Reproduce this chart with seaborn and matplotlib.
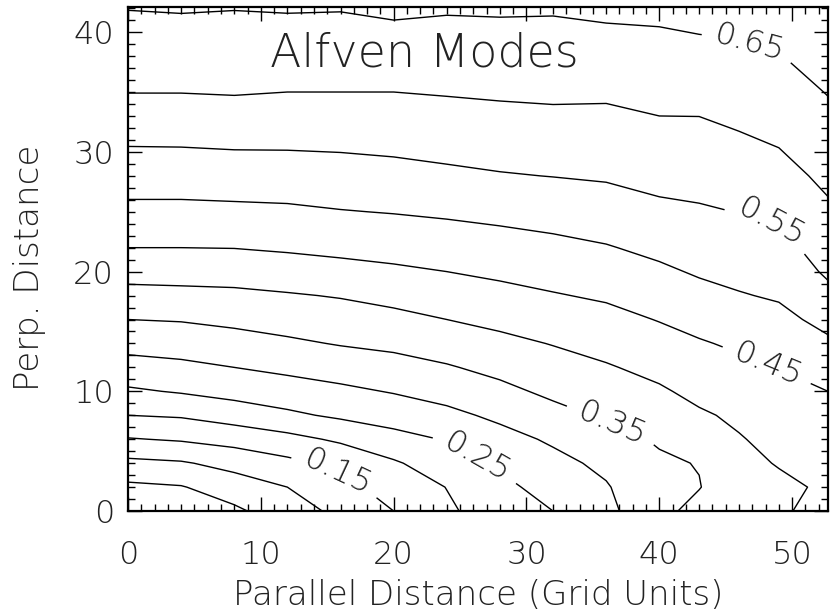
import numpy as np
import matplotlib
matplotlib.use("Agg")
import matplotlib.pyplot as plt
import seaborn as sns
from matplotlib.ticker import MultipleLocator

# grid nodes (grid units)
par_dist = [0, 4, 8, 12, 16, 20, 24, 28, 32, 36, 40, 43, 46, 49, 52.7]
perp_dist = [0, 2, 4, 6, 8, 10, 12, 14, 16, 18, 20, 22, 25, 28, 32, 35, 37, 42.1]

# mode amplitude, one row per perp. distance
amp_rows = [
    [0.010, 0.025, 0.041, 0.077, 0.112, 0.150, 0.193, 0.223, 0.250, 0.288, 0.336, 0.366, 0.378, 0.396, 0.410],
    [0.040, 0.047, 0.075, 0.100, 0.134, 0.172, 0.201, 0.238, 0.268, 0.296, 0.340, 0.348, 0.384, 0.393, 0.405],
    [0.088, 0.095, 0.116, 0.138, 0.161, 0.194, 0.227, 0.257, 0.286, 0.311, 0.343, 0.352, 0.391, 0.402, 0.420],
    [0.147, 0.155, 0.168, 0.185, 0.208, 0.234, 0.253, 0.283, 0.307, 0.334, 0.355, 0.375, 0.397, 0.413, 0.432],
    [0.200, 0.205, 0.222, 0.241, 0.258, 0.271, 0.288, 0.310, 0.335, 0.356, 0.375, 0.394, 0.408, 0.425, 0.441],
    [0.243, 0.254, 0.267, 0.278, 0.290, 0.303, 0.318, 0.338, 0.360, 0.376, 0.394, 0.412, 0.424, 0.438, 0.450],
    [0.281, 0.289, 0.300, 0.311, 0.322, 0.332, 0.346, 0.363, 0.381, 0.396, 0.413, 0.429, 0.440, 0.451, 0.471],
    [0.317, 0.322, 0.331, 0.342, 0.353, 0.361, 0.373, 0.388, 0.402, 0.416, 0.433, 0.446, 0.457, 0.469, 0.492],
    [0.350, 0.353, 0.361, 0.370, 0.378, 0.387, 0.400, 0.412, 0.424, 0.436, 0.452, 0.465, 0.477, 0.487, 0.514],
    [0.384, 0.387, 0.390, 0.396, 0.403, 0.414, 0.425, 0.436, 0.447, 0.456, 0.472, 0.486, 0.497, 0.505, 0.538],
    [0.418, 0.419, 0.420, 0.427, 0.434, 0.442, 0.450, 0.459, 0.467, 0.477, 0.492, 0.505, 0.513, 0.520, 0.557],
    [0.450, 0.450, 0.451, 0.456, 0.462, 0.467, 0.473, 0.480, 0.488, 0.497, 0.511, 0.521, 0.528, 0.535, 0.571],
    [0.488, 0.488, 0.490, 0.492, 0.498, 0.502, 0.507, 0.513, 0.519, 0.527, 0.540, 0.545, 0.551, 0.558, 0.592],
    [0.523, 0.523, 0.525, 0.527, 0.530, 0.535, 0.541, 0.547, 0.551, 0.555, 0.564, 0.566, 0.573, 0.583, 0.611],
    [0.567, 0.568, 0.571, 0.570, 0.571, 0.573, 0.578, 0.582, 0.585, 0.585, 0.593, 0.593, 0.602, 0.612, 0.635],
    [0.601, 0.601, 0.603, 0.600, 0.600, 0.600, 0.603, 0.606, 0.608, 0.607, 0.614, 0.615, 0.621, 0.630, 0.652],
    [0.615, 0.616, 0.617, 0.615, 0.615, 0.617, 0.618, 0.620, 0.621, 0.622, 0.627, 0.629, 0.634, 0.642, 0.664],
    [0.652, 0.654, 0.652, 0.654, 0.653, 0.659, 0.655, 0.656, 0.655, 0.660, 0.661, 0.667, 0.668, 0.673, 0.695],
]

plain_levels = [0.05, 0.10, 0.20, 0.30, 0.40, 0.50, 0.60]
label_levels = [0.15, 0.25, 0.35, 0.45, 0.55, 0.65]
label_spots = [(15.9, 3.8), (26.5, 5.1), (36.5, 7.6), (48.2, 12.5), (48.4, 24.2), (46.8, 39.4)]

sns.set_style("ticks")
plt.rcParams["font.family"] = ["DejaVu Sans"]
plt.rcParams["font.weight"] = "light"
text_col = "#222222"

fig, ax = plt.subplots(figsize=(8.31, 6.15), dpi=100)
fig.subplots_adjust(left=0.154, right=0.9964, bottom=0.169, top=0.9886)

X, Y = np.meshgrid(par_dist, perp_dist)
Z = np.array(amp_rows)
ax.contour(X, Y, Z, levels=plain_levels, colors="black", linewidths=1.0)
cs = ax.contour(X, Y, Z, levels=label_levels, colors="black", linewidths=1.0)
ax.clabel(cs, manual=label_spots, fmt="%.2f",
          fontsize=23, colors=text_col, inline=True, inline_spacing=12)

ax.text(22.3, 37.1, "Alfven Modes", fontsize=33, color=text_col,
        ha="center", va="baseline", fontweight="light")

ax.set_xlim(0, 52.7)
ax.set_ylim(0, 42.1)
ax.xaxis.set_major_locator(MultipleLocator(10))
ax.xaxis.set_minor_locator(MultipleLocator(1))
ax.yaxis.set_major_locator(MultipleLocator(10))
ax.yaxis.set_minor_locator(MultipleLocator(1))
ax.tick_params(which="both", direction="in", top=True, right=True,
               width=1.0, color="black")
ax.tick_params(which="major", length=10, labelsize=23, labelcolor=text_col)
ax.tick_params(which="minor", length=5)
ax.tick_params(axis="x", pad=21)
ax.tick_params(axis="y", pad=10)
for sp in ax.spines.values():
    sp.set_linewidth(1.6)
    sp.set_color("black")

ax.set_xlabel("Parallel Distance (Grid Units)", fontsize=24.5, color=text_col,
              fontweight="light")
ax.set_ylabel("Perp. Distance", fontsize=24.5, color=text_col,
              fontweight="light")
ax.xaxis.set_label_coords(0.5, -0.135)
ax.yaxis.set_label_coords(-0.117, 0.482)

fig.savefig("out.png", dpi=100)
